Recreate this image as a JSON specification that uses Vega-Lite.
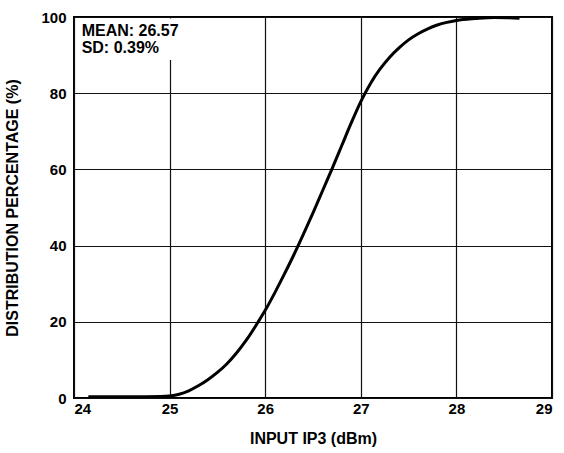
{
  "$schema": "https://vega.github.io/schema/vega-lite/v6.json",
  "width": 478,
  "height": 381,
  "autosize": "none",
  "padding": {"left": 74, "top": 17, "right": 12, "bottom": 55},
  "background": "white",
  "config": {
    "font": "Liberation Sans",
    "view": {"stroke": "#000", "strokeWidth": 2},
    "axis": {
      "grid": true,
      "gridColor": "#111",
      "gridWidth": 1.2,
      "gridOpacity": 1,
      "ticks": false,
      "domain": false,
      "labelFont": "Liberation Sans",
      "labelFontWeight": "bold",
      "labelFontSize": 15,
      "labelColor": "#000",
      "titleFont": "Liberation Sans",
      "titleFontWeight": "bold",
      "titleFontSize": 16,
      "titleColor": "#000"
    }
  },
  "datasets": {
    "curve": [
      {"ip3": 24.15, "pct": 0.3},
      {"ip3": 24.6, "pct": 0.3},
      {"ip3": 24.9, "pct": 0.4},
      {"ip3": 25.0, "pct": 0.55},
      {"ip3": 25.1, "pct": 1.0},
      {"ip3": 25.2, "pct": 1.9},
      {"ip3": 25.3, "pct": 3.2},
      {"ip3": 25.4, "pct": 4.8},
      {"ip3": 25.5, "pct": 6.7},
      {"ip3": 25.6, "pct": 9.0},
      {"ip3": 25.7, "pct": 11.8},
      {"ip3": 25.8, "pct": 15.1},
      {"ip3": 25.9, "pct": 18.9},
      {"ip3": 26.0, "pct": 23.0},
      {"ip3": 26.1, "pct": 27.6},
      {"ip3": 26.2, "pct": 32.5},
      {"ip3": 26.3, "pct": 37.6},
      {"ip3": 26.4, "pct": 43.0},
      {"ip3": 26.5, "pct": 48.6},
      {"ip3": 26.6, "pct": 54.4},
      {"ip3": 26.7, "pct": 60.2},
      {"ip3": 26.8, "pct": 66.2},
      {"ip3": 26.9, "pct": 72.2},
      {"ip3": 27.0, "pct": 77.8},
      {"ip3": 27.1, "pct": 82.5},
      {"ip3": 27.2, "pct": 86.3},
      {"ip3": 27.3, "pct": 89.4},
      {"ip3": 27.4, "pct": 91.9},
      {"ip3": 27.5, "pct": 94.0},
      {"ip3": 27.6, "pct": 95.6},
      {"ip3": 27.7, "pct": 96.9},
      {"ip3": 27.8, "pct": 97.9},
      {"ip3": 27.9, "pct": 98.6},
      {"ip3": 28.0, "pct": 99.1},
      {"ip3": 28.2, "pct": 99.6},
      {"ip3": 28.4, "pct": 99.9},
      {"ip3": 28.66, "pct": 99.7}
    ],
    "box": [{"x1": 24.02, "x2": 25.22, "y1": 88.7, "y2": 99.6}],
    "note": [{"x": 24.08, "y": 98.3}]
  },
  "layer": [
    {
      "data": {"name": "curve"},
      "mark": {"type": "line", "color": "#000", "strokeWidth": 3, "interpolate": "monotone"},
      "encoding": {
        "x": {
          "field": "ip3", "type": "quantitative",
          "scale": {"domain": [24, 29], "nice": false, "zero": false},
          "axis": {"values": [24, 25, 26, 27, 28, 29], "format": "d", "title": "INPUT IP3 (dBm)", "labelPadding": 3, "titlePadding": 14}
        },
        "y": {
          "field": "pct", "type": "quantitative",
          "scale": {"domain": [0, 100], "nice": false},
          "axis": {"values": [0, 20, 40, 60, 80, 100], "title": "DISTRIBUTION PERCENTAGE (%)", "labelPadding": 8, "titlePadding": 20}
        }
      }
    },
    {
      "data": {"name": "box"},
      "mark": {"type": "rect", "fill": "white"},
      "encoding": {
        "x": {"field": "x1", "type": "quantitative"},
        "x2": {"field": "x2"},
        "y": {"field": "y1", "type": "quantitative"},
        "y2": {"field": "y2"}
      }
    },
    {
      "data": {"name": "note"},
      "mark": {"type": "text", "text": ["MEAN: 26.57", "SD: 0.39%"], "align": "left", "baseline": "top", "font": "Liberation Sans", "fontWeight": "bold", "fontSize": 16, "lineHeight": 17, "color": "#000"},
      "encoding": {
        "x": {"field": "x", "type": "quantitative"},
        "y": {"field": "y", "type": "quantitative"}
      }
    }
  ]
}
